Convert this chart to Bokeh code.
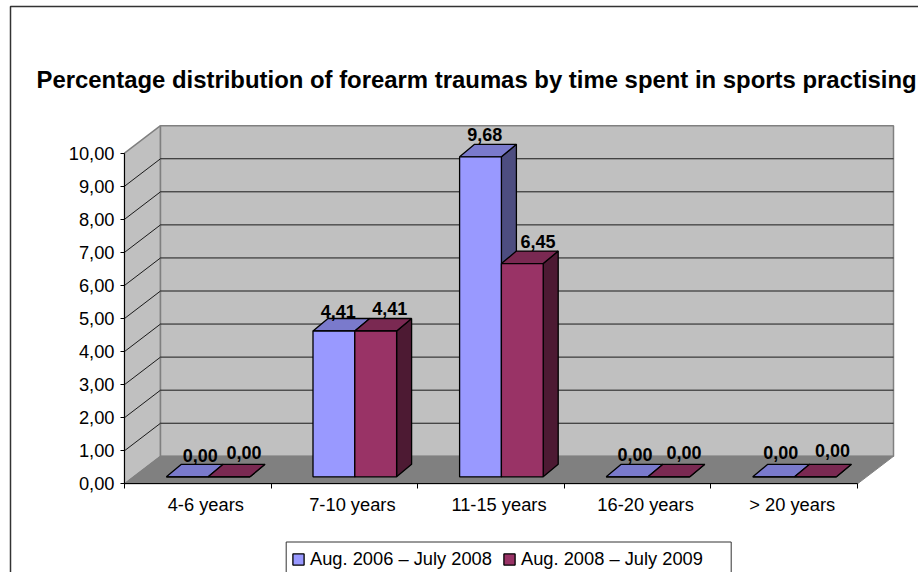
from bokeh.embed import file_html
from bokeh.resources import INLINE
from bokeh.plotting import figure
from bokeh.models import (BoxAnnotation, ColumnDataSource, FixedTicker, Label, Legend,
                          LegendItem, LinearAxis, Range1d)
from bokeh.core.properties import value

# ---------- data ----------
categories = ["4-6 years", "7-10 years", "11-15 years", "16-20 years", "> 20 years"]
series_a = [0.00, 4.41, 9.68, 0.00, 0.00]
series_b = [0.00, 4.41, 6.45, 0.00, 0.00]
series_names = ["Aug. 2006 \u2013 July 2008", "Aug. 2008 \u2013 July 2009"]
y_ticks = [0, 1, 2, 3, 4, 5, 6, 7, 8, 9, 10]
chart_title = "Percentage distribution of forearm traumas by time spent in sports practising"

# ---------- scale of the pseudo-3D projection ----------
W, H = 918, 572
ORIGIN_X, ORIGIN_Y = 124, 483.3   # where the axes cross, in pixels of the picture
PX_X = 146.6      # pixels per category
PX_Y = 33.06      # pixels per percent
WALL_DX = 36 / PX_X
WALL_DY = 27.5 / PX_Y
BAR_W = 41.8 / PX_X
BAR_SHIFT = 10.4 / PX_X
BAR_LIFT = 7.0 / PX_Y
BAR_DX = 15 / PX_X
BAR_DY = 12.5 / PX_Y
N = len(categories)
Y_MAX = max(y_ticks)

FONT = "Liberation Sans"
WALL = "#C0C0C0"
FLOOR = "#808080"
EDGE = "#808080"
COLORS = [("#9999FF", "#7A7ACC", "#4D4D80"), ("#993366", "#7A2952", "#4D1A33")]

p = figure(width=W, height=H, output_backend="svg", toolbar_location=None,
           x_range=Range1d(-ORIGIN_X / PX_X, (W - ORIGIN_X) / PX_X),
           y_range=Range1d(-(H - ORIGIN_Y) / PX_Y, ORIGIN_Y / PX_Y),
           min_border=0, x_axis_type=None, y_axis_type=None, outline_line_color=None,
           background_fill_color="white", border_fill_color="white",
           margin=(0, 0, 0, 0))
p.grid.visible = False

# ---------- walls and floor ----------
p.patch([0, WALL_DX, WALL_DX, 0], [0, WALL_DY, Y_MAX + WALL_DY, Y_MAX], fill_color=WALL,
        line_color=EDGE, line_width=1.5)
p.patch([WALL_DX, N + WALL_DX, N + WALL_DX, WALL_DX],
        [WALL_DY, WALL_DY, Y_MAX + WALL_DY, Y_MAX + WALL_DY], fill_color=WALL,
        line_color=EDGE, line_width=1.5)
p.patch([0, N, N + WALL_DX, WALL_DX], [0, 0, WALL_DY, WALL_DY], fill_color=FLOOR,
        line_color=EDGE, line_width=1)

# ---------- grid lines on the side wall and back wall ----------
inner = [t for t in y_ticks if 0 < t < Y_MAX]
p.multi_line([[0, WALL_DX, N + WALL_DX] for _ in inner],
             [[t, t + WALL_DY, t + WALL_DY] for t in inner],
             line_color="#1a1a1a", line_width=1)

# ---------- bars ----------
fronts = []
for s, vals in enumerate([series_a, series_b]):
    front, top, side = COLORS[s]
    lefts = [i + 0.5 + BAR_SHIFT + (s - 1) * BAR_W for i in range(N)]
    rights = [l + BAR_W for l in lefts]
    base = BAR_LIFT
    tops = [v + base for v in vals]
    p.patches([[r, r + BAR_DX, r + BAR_DX, r] for r in rights],
              [[base, base + BAR_DY, t + BAR_DY, t] for t in tops],
              fill_color=side, line_color="black", line_width=1.3)
    p.patches([[l, r, r + BAR_DX, l + BAR_DX] for l, r in zip(lefts, rights)],
              [[t, t, t + BAR_DY, t + BAR_DY] for t in tops],
              fill_color=top, line_color="black", line_width=1.3)
    src = ColumnDataSource(dict(left=lefts, right=rights, bottom=[base] * N, top=tops))
    fronts.append(p.quad(left="left", right="right", bottom="bottom", top="top", source=src,
                         fill_color=front, line_color="black", line_width=1.3))

# ---------- data labels ----------
label_dx = [[13, 4.3, 4.3, 8, 7], [15, 14, 15.7, 15, 17]]
label_dy = [[-21, -19.5, -22.6, -22, -24], [-24, -23, -22, -24, -26.6]]
for s, vals in enumerate([series_a, series_b]):
    xs = [i + 0.5 + BAR_SHIFT + (s - 0.5) * BAR_W for i in range(N)]
    ys = [v + BAR_LIFT for v in vals]
    p.text(xs, ys, text=[f"{v:.2f}".replace(".", ",") for v in vals],
           x_offset=label_dx[s], y_offset=label_dy[s],
           text_font=value(FONT), text_font_style="bold", text_font_size="18px",
           text_align="center", text_baseline="middle", text_color="black")

# ---------- axes ----------
left = LinearAxis(ticker=FixedTicker(ticks=y_ticks), fixed_location=0,
                  major_label_overrides={t: f"{t:.2f}".replace(".", ",") for t in y_ticks},
                  bounds=(0, Y_MAX), axis_line_color="black", major_tick_line_color="black",
                  major_tick_out=4, major_tick_in=0, minor_tick_line_color=None,
                  major_label_standoff=6, major_label_text_font=FONT,
                  major_label_text_font_size="18.3px", major_label_text_color="black")
p.add_layout(left, "left")

label_pos = [round(i + 0.5545, 4) for i in range(N)]
bottom = LinearAxis(ticker=FixedTicker(ticks=label_pos, minor_ticks=list(range(N + 1))),
                    fixed_location=0,
                    major_label_overrides=dict(zip(label_pos, categories)),
                    bounds=(0, N), axis_line_color="black", major_tick_line_color=None,
                    major_tick_out=0, major_tick_in=0, minor_tick_line_color="black",
                    minor_tick_out=5, minor_tick_in=0, major_label_standoff=5,
                    major_label_text_font=FONT, major_label_text_font_size="18.3px",
                    major_label_text_color="black")
p.add_layout(bottom, "below")

# ---------- title ----------
p.add_layout(Label(x=36, y=H - 79, x_units="screen", y_units="screen", text=chart_title,
                   text_align="left", text_baseline="middle", text_font=FONT,
                   text_font_size="23.9px", text_font_style="bold", text_color="black"))

# ---------- legend box and legend ----------
p.add_layout(BoxAnnotation(left=285.7, right=730.7, top=541.5, bottom=H + 20, left_units="canvas",
                           right_units="canvas", top_units="canvas", bottom_units="canvas",
                           fill_color="white", fill_alpha=1, line_color="#333333", line_alpha=1,
                           line_width=1, level="overlay"))
legend = Legend(items=[LegendItem(label=n, renderers=[r]) for n, r in zip(series_names, fronts)],
                orientation="horizontal", location=(291, 0.5), margin=0, padding=0,
                glyph_width=14, glyph_height=14, label_standoff=5, label_width=192,
                label_height=25, spacing=0, label_text_font=FONT,
                label_text_font_size="18.3px", label_text_color="black",
                border_line_color=None, background_fill_alpha=0, level="overlay")
p.add_layout(legend, "center")

# ---------- chart-area border ----------
p.add_layout(BoxAnnotation(left=10, top=6, right=W + 20, bottom=H + 20, left_units="canvas",
                           right_units="canvas", top_units="canvas", bottom_units="canvas",
                           fill_color=None, line_color="#333333", line_alpha=1, line_width=1.5,
                           level="overlay"))

open("out.html", "w").write(file_html(p, INLINE))
